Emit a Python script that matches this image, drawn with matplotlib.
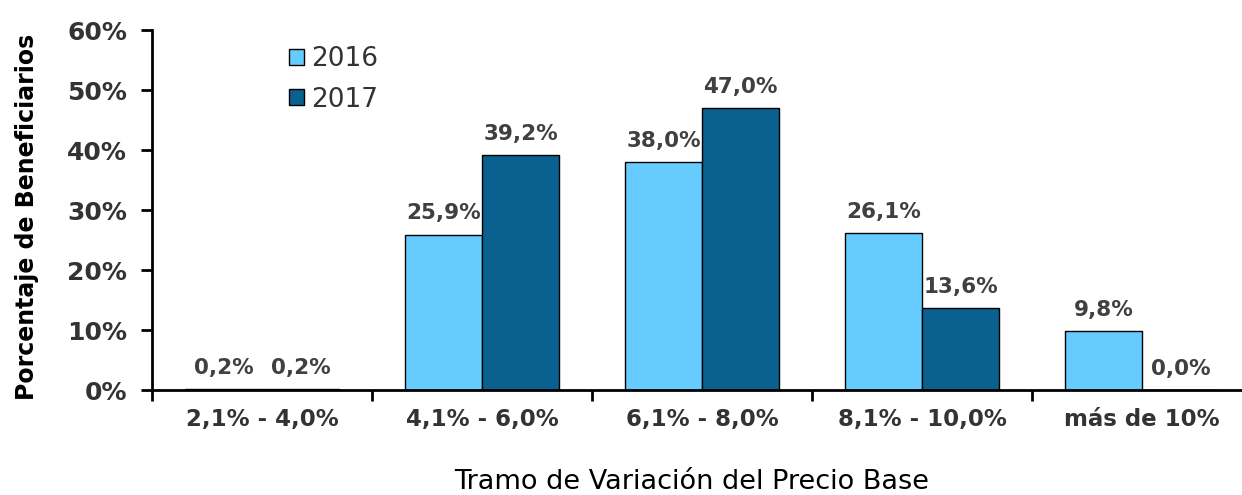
import matplotlib
matplotlib.use("Agg")
import matplotlib.pyplot as plt
import numpy as np

categories = ["2,1% - 4,0%", "4,1% - 6,0%", "6,1% - 8,0%", "8,1% - 10,0%", "más de 10%"]
series_names = ["2016", "2017"]
values_2016 = [0.2, 25.9, 38.0, 26.1, 9.8]
values_2017 = [0.2, 39.2, 47.0, 13.6, 0.0]
yticks = [0, 10, 20, 30, 40, 50, 60]
ytick_labels = ["0%", "10%", "20%", "30%", "40%", "50%", "60%"]

plt.rcParams['font.family'] = ['DejaVu Sans']

W, H = 1242, 495
fig = plt.figure(figsize=(W / 100, H / 100), dpi=100)
ax = fig.add_axes([152 / W, 1 - 390 / H, (1252 - 152) / W, (390 - 30) / H])

x = np.arange(len(categories))
bw = 0.35
c16 = "#66CCFF"
c17 = "#0A6190"
b1 = ax.bar(x - bw / 2, values_2016, bw, color=c16, edgecolor="black", linewidth=1, label=series_names[0])
b2 = ax.bar(x + bw / 2, values_2017, bw, color=c17, edgecolor="black", linewidth=1, label=series_names[1])

lab_color = "#404040"
for bars, vals in ((b1, values_2016), (b2, values_2017)):
    for rect, v in zip(bars, vals):
        ax.annotate(f"{v:.1f}".replace(".", ",") + "%",
                    (rect.get_x() + rect.get_width() / 2, rect.get_height()),
                    xytext=(0, 8), textcoords="offset points",
                    ha="center", va="bottom", fontsize=15.5, fontweight="bold",
                    color=lab_color)

ax.set_xlim(-0.5, len(categories) - 0.5)
ax.set_ylim(0, 60)
ax.set_yticks(yticks)
ax.set_yticklabels(ytick_labels, fontsize=18, fontweight="bold", color="#333333")
ax.tick_params(axis="y", direction="out", length=8, width=2, pad=10)

ax.set_xticks(x)
ax.set_xticklabels(categories, fontsize=16.5, fontweight="bold", color="#333333")
ax.tick_params(axis="x", which="major", length=0, pad=13)
ax.set_xticks(np.arange(len(categories) + 1) - 0.5, minor=True)
ax.tick_params(axis="x", which="minor", direction="out", length=8, width=2)

for s in ("top", "right"):
    ax.spines[s].set_visible(False)
for s in ("left", "bottom"):
    ax.spines[s].set_linewidth(2)

fig.text(692 / W, 1 - 482 / H, "Tramo de Variación del Precio Base", fontsize=19.5,
         ha="center", va="center", color="black")
fig.text(27 / W, 1 - 217 / H, "Porcentaje de Beneficiarios", fontsize=17,
         fontweight="bold", rotation=90, ha="center", va="center", color="black")

leg = ax.legend(loc="upper left", bbox_to_anchor=(289 / W, 1 - 46 / H),
                bbox_transform=fig.transFigure, frameon=False, fontsize=19,
                handlelength=0.55, handleheight=0.55, handletextpad=0.3,
                labelspacing=0.55, borderaxespad=0, borderpad=0)
for t in leg.get_texts():
    t.set_color("#333333")

fig.savefig("out.png", dpi=100)
